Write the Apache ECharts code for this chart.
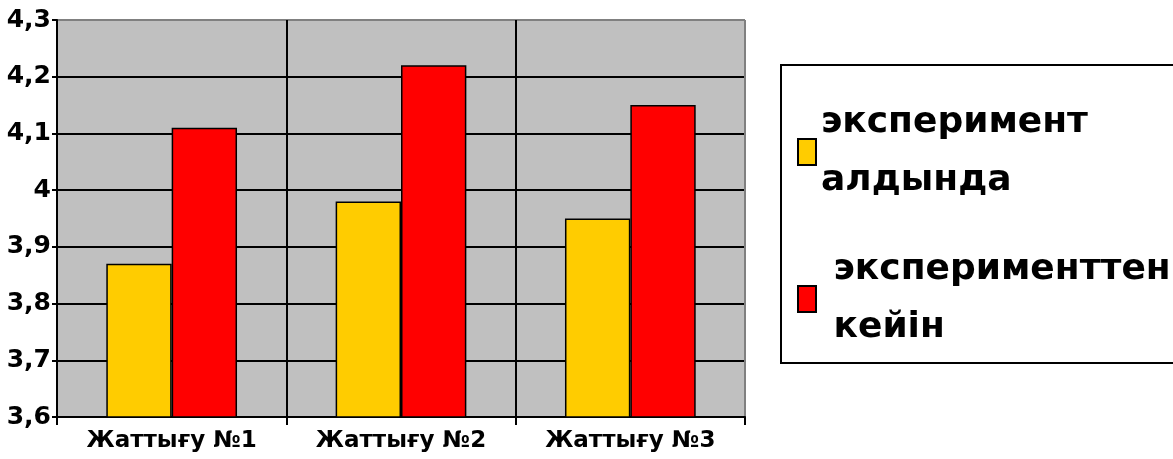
<!DOCTYPE html>
<html><head><meta charset="utf-8">
<script src="https://cdn.jsdelivr.net/npm/echarts@6/dist/echarts.min.js"></script>
<style>html,body{margin:0;padding:0;background:#fff}#c{width:1173px;height:459px}</style>
</head><body><div id="c"></div>
<script>
const categories = ['Жаттығу №1', 'Жаттығу №2', 'Жаттығу №3'];
const seriesNames = ['эксперимент\nалдында', ' эксперименттен\n кейін'];
const before = [3.87, 3.98, 3.95];
const after = [4.11, 4.22, 4.15];
const yTicks = { min: 3.6, max: 4.3, step: 0.1 };

const chart = echarts.init(document.getElementById('c'), null, {renderer: 'canvas'});
const FONT = 'DejaVu Sans';
chart.setOption({
  animation: false,
  backgroundColor: '#ffffff',
  grid: { left: 57, top: 20, right: 428, bottom: 42, show: true, backgroundColor: '#c0c0c0', borderColor: '#808080', borderWidth: 1, containLabel: false },
  xAxis: {
    type: 'category', data: categories, boundaryGap: true,
    axisLine: { show: true, lineStyle: { color: '#000', width: 2 } },
    axisTick: { show: true, length: 8, lineStyle: { color: '#000', width: 2 } },
    splitLine: { show: true, lineStyle: { color: ['#000', '#000', '#000', '#808080'], width: 2 } },
    axisLabel: { interval: 0, hideOverlap: false, color: '#000', fontFamily: FONT, fontWeight: 'bold', fontSize: 23, margin: 13 }
  },
  yAxis: {
    type: 'value', min: yTicks.min, max: yTicks.max, interval: yTicks.step,
    axisLine: { show: true, lineStyle: { color: '#000', width: 2 } },
    axisTick: { show: true, length: 5, lineStyle: { color: '#000', width: 2 } },
    splitLine: { show: true, lineStyle: { color: ['#000','#000','#000','#000','#000','#000','#000','#808080'], width: 2 } },
    axisLabel: { color: '#000', fontFamily: FONT, fontWeight: 'bold', fontSize: 25, margin: 6,
      formatter: v => String(+v.toFixed(1)).replace('.', ',') }
  },
  legend: {
    orient: 'vertical', left: 792, top: 89, itemWidth: 18, itemHeight: 26, itemGap: 31,
    icon: 'rect',
    textStyle: { color: '#000', fontFamily: FONT, fontWeight: 'bold', fontSize: 36, lineHeight: 58 },
    data: seriesNames
  },
  graphic: [{ type: 'rect', shape: { x: 781, y: 65, width: 420, height: 298 }, style: { fill: 'none', stroke: '#000', lineWidth: 2 }, z: 0 }],
  series: [
    { name: seriesNames[0], type: 'bar', data: before, barGap: '0%', barCategoryGap: '43%',
      itemStyle: { color: '#ffcc00', borderColor: '#000', borderWidth: 1.5 } },
    { name: seriesNames[1], type: 'bar', data: after, barGap: '0%', barCategoryGap: '43%',
      itemStyle: { color: '#ff0000', borderColor: '#000', borderWidth: 1.5 } }
  ]
});
</script></body></html>
